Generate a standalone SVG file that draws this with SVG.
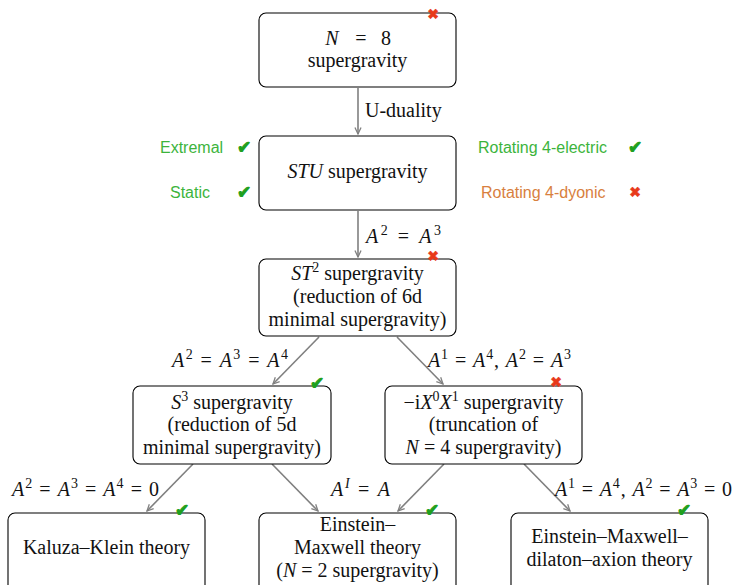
<svg xmlns="http://www.w3.org/2000/svg" width="735" height="585" viewBox="0 0 735 585">
<style>
.box{fill:#fff;stroke:#000;stroke-width:1.1}
.t{font-family:"Liberation Serif",serif;font-size:20px;fill:#111;text-anchor:middle}
.lbl{font-family:"Liberation Serif",serif;font-size:20px;fill:#111}
.i{font-style:italic}
.sup{font-size:14px}
.e{stroke:#808080;stroke-width:1.6;fill:none;marker-end:url(#ah)}
.side{font-family:"Liberation Sans",Arial,sans-serif;font-size:16px}
.g{fill:#3cb43c}
.o{fill:#d8803e}
.ck{font-family:"DejaVu Sans",sans-serif;font-size:17px;text-anchor:middle;fill:#1ea01e;stroke:#1ea01e;stroke-width:1}
.x{font-family:"DejaVu Sans",sans-serif;font-size:14px;text-anchor:middle;fill:#e8391a;stroke:#e8391a;stroke-width:0.6}
</style>
<defs>
<marker id="ah" viewBox="0 0 10 10" refX="9" refY="5" markerWidth="8" markerHeight="8" orient="auto" markerUnits="userSpaceOnUse">
<path d="M1,1.2 L9,5 L1,8.8" fill="none" stroke="#808080" stroke-width="1.6"/>
</marker>
</defs>

<g id="connectors">
<line class="e" x1="358" y1="88" x2="358" y2="134"/>
<line class="e" x1="358" y1="211" x2="358" y2="257"/>
<line class="e" x1="319" y1="337" x2="273" y2="384"/>
<line class="e" x1="397" y1="337" x2="443" y2="384"/>
<line class="e" x1="193" y1="464" x2="147" y2="511"/>
<line class="e" x1="272" y1="464" x2="318" y2="511"/>
<line class="e" x1="444" y1="464" x2="398" y2="511"/>
<line class="e" x1="524" y1="464" x2="570" y2="511"/>
<text class="lbl" x="365" y="117">U-duality</text>
<text class="lbl" x="366" y="243" textLength="75" lengthAdjust="spacing"><tspan class="i">A</tspan><tspan class="sup" dy="-8">2</tspan><tspan dy="8"> = </tspan><tspan class="i">A</tspan><tspan class="sup" dy="-8">3</tspan></text>
<text class="lbl" x="172" y="367" textLength="116" lengthAdjust="spacing"><tspan class="i">A</tspan><tspan class="sup" dy="-8">2</tspan><tspan dy="8"> = </tspan><tspan class="i">A</tspan><tspan class="sup" dy="-8">3</tspan><tspan dy="8"> = </tspan><tspan class="i">A</tspan><tspan class="sup" dy="-8">4</tspan></text>
<text class="lbl" x="428" y="367" textLength="143" lengthAdjust="spacing"><tspan class="i">A</tspan><tspan class="sup" dy="-8">1</tspan><tspan dy="8"> = </tspan><tspan class="i">A</tspan><tspan class="sup" dy="-8">4</tspan><tspan dy="8">, </tspan><tspan class="i">A</tspan><tspan class="sup" dy="-8">2</tspan><tspan dy="8"> = </tspan><tspan class="i">A</tspan><tspan class="sup" dy="-8">3</tspan></text>
<text class="lbl" x="12" y="496" textLength="147" lengthAdjust="spacing"><tspan class="i">A</tspan><tspan class="sup" dy="-8">2</tspan><tspan dy="8"> = </tspan><tspan class="i">A</tspan><tspan class="sup" dy="-8">3</tspan><tspan dy="8"> = </tspan><tspan class="i">A</tspan><tspan class="sup" dy="-8">4</tspan><tspan dy="8"> = 0</tspan></text>
<text class="lbl" x="331" y="496" textLength="59" lengthAdjust="spacing"><tspan class="i">A</tspan><tspan class="sup i" dy="-8">I</tspan><tspan dy="8"> = </tspan><tspan class="i">A</tspan></text>
<text class="lbl" x="555" y="496" textLength="177" lengthAdjust="spacing"><tspan class="i">A</tspan><tspan class="sup" dy="-8">1</tspan><tspan dy="8"> = </tspan><tspan class="i">A</tspan><tspan class="sup" dy="-8">4</tspan><tspan dy="8">, </tspan><tspan class="i">A</tspan><tspan class="sup" dy="-8">2</tspan><tspan dy="8"> = </tspan><tspan class="i">A</tspan><tspan class="sup" dy="-8">3</tspan><tspan dy="8"> = 0</tspan></text>
</g>

<g id="n8">
<rect class="box" x="259" y="13" width="197" height="74" rx="7"/>
<text class="t" x="332" y="45"><tspan class="i">N</tspan></text>
<text class="t" x="361" y="45">=</text>
<text class="t" x="386" y="45">8</text>
<text class="t" x="357.5" y="67">supergravity</text>
<text class="x" x="433" y="19">✖</text>
</g>

<g id="stu">
<rect class="box" x="259" y="136" width="197" height="74" rx="7"/>
<text class="t" x="357.5" y="178"><tspan class="i">STU</tspan> supergravity</text>
</g>

<g id="side">
<text class="side g" x="160" y="153">Extremal</text>
<text class="ck" x="244" y="153">✔</text>
<text class="side g" x="170" y="198">Static</text>
<text class="ck" x="244" y="198">✔</text>
<text class="side g" x="478" y="153">Rotating 4-electric</text>
<text class="ck" x="635" y="153">✔</text>
<text class="side o" x="481" y="198">Rotating 4-dyonic</text>
<text class="x" x="635" y="197">✖</text>
</g>

<g id="st2">
<rect class="box" x="259" y="259" width="197" height="77" rx="7"/>
<text class="t" x="357.5" y="280"><tspan class="i">ST</tspan><tspan class="sup" dy="-8">2</tspan><tspan dy="8"> supergravity</tspan></text>
<text class="t" x="357.5" y="303">(reduction of 6d</text>
<text class="t" x="357.5" y="326">minimal supergravity)</text>
<text class="x" x="433" y="261">✖</text>
</g>

<g id="s3">
<rect class="box" x="133" y="386" width="198" height="78" rx="7"/>
<text class="t" x="232" y="409"><tspan class="i">S</tspan><tspan class="sup" dy="-8">3</tspan><tspan dy="8"> supergravity</tspan></text>
<text class="t" x="232" y="431">(reduction of 5d</text>
<text class="t" x="232" y="454">minimal supergravity)</text>
<text class="ck" x="317" y="389">✔</text>
</g>

<g id="ix0x1">
<rect class="box" x="385" y="386" width="197" height="78" rx="7"/>
<text class="t" x="483.5" y="409">−i<tspan class="i">X</tspan><tspan class="sup" dy="-8">0</tspan><tspan class="i" dy="8">X</tspan><tspan class="sup" dy="-8">1</tspan><tspan dy="8"> supergravity</tspan></text>
<text class="t" x="483.5" y="431">(truncation of</text>
<text class="t" x="483.5" y="454"><tspan class="i">N</tspan> = 4 supergravity)</text>
<text class="x" x="556" y="387">✖</text>
</g>

<g id="kk">
<rect class="box" x="8" y="513" width="197" height="80" rx="7"/>
<text class="t" x="106.5" y="554">Kaluza–Klein theory</text>
<text class="ck" x="182" y="516">✔</text>
</g>

<g id="em">
<rect class="box" x="259" y="513" width="197" height="80" rx="7"/>
<text class="t" x="357.5" y="531">Einstein–</text>
<text class="t" x="357.5" y="554">Maxwell theory</text>
<text class="t" x="357.5" y="577">(<tspan class="i">N</tspan> = 2 supergravity)</text>
<text class="ck" x="432" y="516">✔</text>
</g>

<g id="emda">
<rect class="box" x="511" y="513" width="197" height="80" rx="7"/>
<text class="t" x="609.5" y="543">Einstein–Maxwell–</text>
<text class="t" x="609.5" y="566">dilaton–axion theory</text>
<text class="ck" x="684" y="516">✔</text>
</g>
</svg>
